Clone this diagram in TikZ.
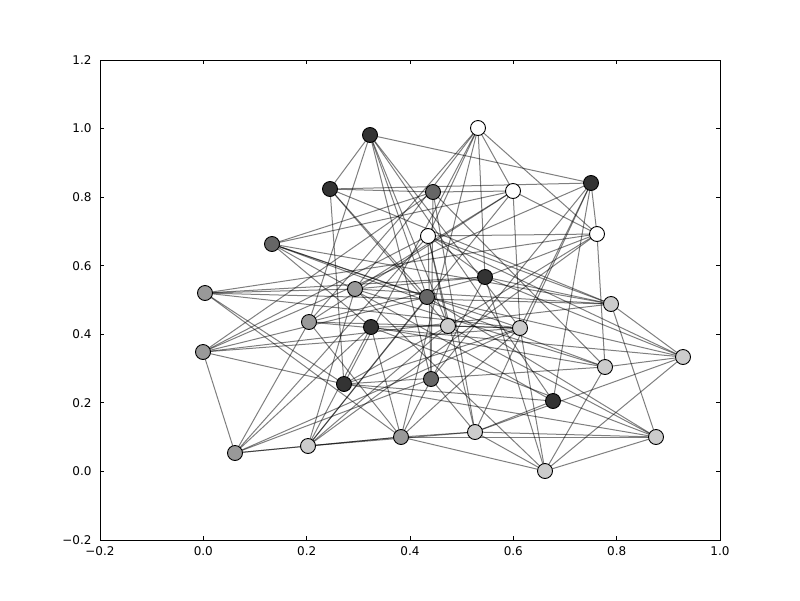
\documentclass[tikz,border=0pt]{standalone}
\usepackage{fontspec}
\setmainfont{DejaVu Sans}
\begin{document}
\begin{tikzpicture}[x=1pt,y=-1pt,
  nd/.style={circle,draw=black,line width=0.9pt,minimum size=15pt,inner sep=0pt},
  ed/.style={draw=black,draw opacity=0.5,line width=1pt},
  tk/.style={draw=black,line width=0.8pt}]
\useasboundingbox (0,0) rectangle (800,600);
\fill[white] (0,0) rectangle (800,600);
% axes
\draw[tk] (100,60) rectangle (720,540);
\foreach \x/\l in {100/{−0.2},203.33/{0.0},306.67/{0.2},410/{0.4},513.33/{0.6},616.67/{0.8},720/{1.0}}{
  \draw[tk] (\x,540) -- (\x,536); \draw[tk] (\x,60) -- (\x,64);
  \node[font=\fontsize{12}{14}\selectfont,anchor=north] at (\x,543) {\l};}
\foreach \y/\l in {60/{1.2},128.57/{1.0},197.14/{0.8},265.71/{0.6},334.29/{0.4},402.86/{0.2},471.43/{0.0},540/{−0.2}}{
  \draw[tk] (100,\y) -- (104,\y); \draw[tk] (720,\y) -- (716,\y);
  \node[font=\fontsize{12}{14}\selectfont,anchor=east] at (95,\y) {\l};}
% node positions
\foreach \n/\x/\y in {1/370/135,2/478/128,3/330/189,4/433/192,5/513/191,6/591/183,7/428/236,8/597/234,9/272/244,10/205/293,11/355/289,12/427/297,13/485/277,14/611/304,15/309/322,16/371/327,17/448/326,18/520/328,19/203/352,20/683/357,21/605/367,22/344/384,23/431/379,24/553/401,25/235/453,26/308/446,27/401/437,28/475/432,29/656/437,30/545/471}
  \coordinate (p\n) at (\x,\y);
% edges
\foreach \a/\b in {1/3,1/6,1/12,1/15,1/17,1/18,1/23,1/24,
  2/5,2/7,2/8,2/11,2/13,2/15,2/22,2/27,
  3/4,3/6,3/12,3/14,3/17,3/22,
  4/5,4/9,4/19,4/21,4/23,4/28,
  5/8,5/9,5/11,5/15,5/18,5/26,
  6/8,6/18,6/19,6/23,6/24,6/28,
  7/8,7/13,7/14,7/17,7/19,7/20,7/23,7/25,7/28,
  8/10,8/13,8/17,8/21,8/26,
  9/12,9/14,9/16,9/18,9/21,9/24,
  10/11,10/13,10/14,10/18,10/22,10/27,
  11/13,11/14,11/21,11/26,11/30,
  12/19,12/20,12/26,12/29,
  13/14,13/15,13/20,13/27,13/30,
  14/19,14/20,14/29,
  15/18,15/20,15/25,15/27,
  16/17,16/21,16/25,16/26,16/27,16/29,
  17/18,17/22,17/26,17/29,
  18/19,18/22,18/25,18/27,18/30,
  19/22,19/25,
  20/21,20/28,20/30,
  21/22,21/30,
  22/24,22/29,
  23/25,23/28,
  24/28,
  25/26,25/27,
  26/27,26/28,
  27/28,27/29,27/30,
  28/29,28/30,
  29/30}
  \draw[ed] (p\a) -- (p\b);
% nodes
\foreach \n/\c in {1/333333,2/FFFFFF,3/333333,4/666666,5/FFFFFF,6/333333,7/FFFFFF,8/FFFFFF,9/666666,10/999999,11/999999,12/666666,13/333333,14/CCCCCC,15/999999,16/333333,17/CCCCCC,18/CCCCCC,19/999999,20/CCCCCC,21/CCCCCC,22/333333,23/666666,24/333333,25/999999,26/CCCCCC,27/999999,28/CCCCCC,29/CCCCCC,30/CCCCCC}{
  \definecolor{nc}{HTML}{\c}
  \node[nd,fill=nc] (n\n) at (p\n) {};}
\end{tikzpicture}
\end{document}
